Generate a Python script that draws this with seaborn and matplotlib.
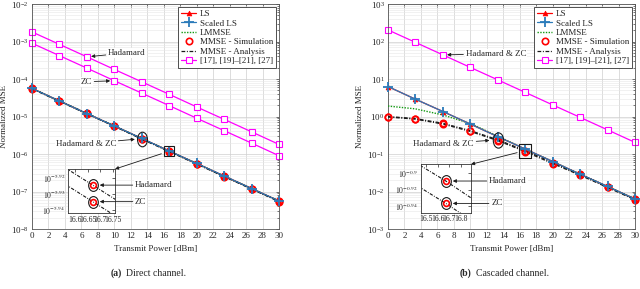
import matplotlib
matplotlib.use('Agg')
import matplotlib.pyplot as plt
import matplotlib.ticker as mticker
from matplotlib.path import Path
from matplotlib.transforms import Affine2D
import seaborn as sns

# transmit power grid [dBm]
power = [0, 3.33, 6.67, 10, 13.33, 16.67, 20, 23.33, 26.67, 30]

# (a) direct channel
a_ls = [5.6e-5, 2.6e-5, 1.2e-5, 5.6e-6, 2.6e-6, 1.2e-6, 5.6e-7, 2.6e-7, 1.2e-7, 5.6e-8]
a_sls = [5.6e-5, 2.6e-5, 1.2e-5, 5.6e-6, 2.6e-6, 1.2e-6, 5.6e-7, 2.6e-7, 1.2e-7, 5.6e-8]
a_lmmse = [5.6e-5, 2.6e-5, 1.2e-5, 5.6e-6, 2.6e-6, 1.2e-6, 5.6e-7, 2.6e-7, 1.2e-7, 5.6e-8]
a_mmse_had = [5.62e-5, 2.61e-5, 1.21e-5, 5.6e-6, 2.563e-6, 1.19e-6, 5.52e-7, 2.56e-7, 1.19e-7, 5.52e-8]
a_mmse_zc = [5.47e-5, 2.54e-5, 1.18e-5, 5.47e-6, 2.50e-6, 1.162e-6, 5.39e-7, 2.50e-7, 1.16e-7, 5.39e-8]
a_ref_had = [1.8e-3, 8.4e-4, 3.9e-4, 1.8e-4, 8.4e-5, 3.9e-5, 1.8e-5, 8.4e-6, 3.9e-6, 1.8e-6]
a_ref_zc = [9.0e-4, 4.2e-4, 1.95e-4, 9.0e-5, 4.2e-5, 1.95e-5, 9.0e-6, 4.2e-6, 1.95e-6, 9.0e-7]

# (b) cascaded channel
b_ls = [6.3, 2.9, 1.36, 0.63, 0.29, 0.136, 0.063, 0.029, 0.0136, 0.0063]
b_sls = [6.3, 2.9, 1.36, 0.63, 0.29, 0.136, 0.063, 0.029, 0.0136, 0.0063]
b_lmmse = [1.9, 1.6, 1.1, 0.65, 0.30, 0.135, 0.063, 0.029, 0.0136, 0.0063]
b_mmse_had = [1.0, 0.88, 0.66, 0.42, 0.24, 0.1232, 0.0592, 0.0288, 0.0135, 0.0063]
b_mmse_zc = [0.97, 0.85, 0.63, 0.40, 0.228, 0.1157, 0.0556, 0.0272, 0.0128, 0.0060]
b_ref = [204, 95, 44, 20.4, 9.5, 4.4, 2.04, 0.95, 0.44, 0.204]

labels = ['LS', 'Scaled LS', 'LMMSE', 'MMSE - Simulation', 'MMSE - Analysis',
          '[17], [19]–[21], [27]']

sns.set_theme(style='whitegrid')
plt.rcParams['font.family'] = ['Liberation Serif', 'DejaVu Serif']
plt.rcParams['mathtext.fontset'] = 'stix'

RED = '#ff0000'
BLUE = '#2b7bba'
GREEN = '#139a13'
MAG = '#ff00ff'
FS = 6.5

ell_main = Path.unit_circle().transformed(Affine2D().scale(0.68, 1.0))
ell_in = Path.unit_circle().transformed(Affine2D().scale(0.82, 1.0))
rect_m = Path.unit_rectangle().transformed(Affine2D().translate(-0.5, -0.5).scale(0.8, 1.0))

fig = plt.figure(figsize=(6.4, 2.89), dpi=100)
ax1 = fig.add_axes([0.05, 0.2076, 0.386, 0.7785])
ax2 = fig.add_axes([0.6062, 0.2076, 0.386, 0.7785])


def draw_main(ax, ls, sls, lmmse, mh, mz, refs):
    sns.lineplot(x=power, y=ls, ax=ax, color=RED, lw=0.9, marker='^', ms=3.5,
                 markeredgecolor=RED, markeredgewidth=0.5, label=labels[0],
                 zorder=4, clip_on=False)
    sns.lineplot(x=power, y=sls, ax=ax, color=BLUE, lw=0.9, marker='+', ms=6.5,
                 markeredgecolor=BLUE, markeredgewidth=1.3, label=labels[1],
                 zorder=6, clip_on=False)
    sns.lineplot(x=power, y=lmmse, ax=ax, color=GREEN, lw=1.0,
                 linestyle=(0, (1, 1)), label=labels[2], zorder=3)
    for i, m in enumerate([mh, mz]):
        sns.lineplot(x=power, y=m, ax=ax, color=RED, linestyle='', marker='o',
                     ms=4.6, mfc='none', markeredgecolor=RED, markeredgewidth=1.2,
                     label=labels[3] if i == 0 else '_nolegend_', zorder=5,
                     clip_on=False)
    for i, m in enumerate([mh, mz]):
        sns.lineplot(x=power, y=m, ax=ax, color='k', lw=0.9,
                     linestyle=(0, (3, 1.3, 0.8, 1.3)),
                     label=labels[4] if i == 0 else '_nolegend_', zorder=4.5)
    for i, r in enumerate(refs):
        sns.lineplot(x=power, y=r, ax=ax, color=MAG, lw=0.9, marker='s', ms=4.2,
                     mfc='white', markeredgecolor=MAG, markeredgewidth=0.8,
                     label=labels[5] if i == 0 else '_nolegend_', zorder=2,
                     clip_on=False)


def style_main(ax, ylo, yhi):
    ax.set_yscale('log')
    ax.set_xlim(0, 30)
    ax.set_ylim(ylo, yhi)
    ax.set_xticks(range(0, 31, 2))
    ax.yaxis.set_major_locator(mticker.LogLocator(base=10, numticks=20))
    ax.yaxis.set_major_formatter(mticker.LogFormatterMathtext())
    ax.yaxis.set_minor_locator(mticker.LogLocator(base=10, subs=range(2, 10), numticks=20))
    ax.yaxis.set_minor_formatter(mticker.NullFormatter())
    ax.grid(True, which='major', color='#cfcfcf', lw=0.5)
    ax.grid(True, which='minor', axis='y', color='#e6e6e6', lw=0.4)
    ax.tick_params(which='both', direction='in', top=True, right=True,
                   labelsize=FS, pad=2.5, color='#444444', width=0.5)
    ax.tick_params(which='major', length=2.5)
    ax.tick_params(which='minor', length=1.5)
    for s in ax.spines.values():
        s.set_color('#555555')
        s.set_linewidth(0.6)
    ax.set_xlabel('Transmit Power [dBm]', fontsize=FS, labelpad=3)
    ax.set_ylabel('Normalized MSE', fontsize=FS, labelpad=2)
    ax.legend(loc='upper right', fontsize=FS, frameon=True, fancybox=False,
              edgecolor='#333333', framealpha=1, borderpad=0.3,
              labelspacing=0.12, handlelength=1.7, handletextpad=0.4,
              borderaxespad=0.35, numpoints=1)
    ax.get_legend().get_frame().set_linewidth(0.6)


def note(ax, text, x, y, dx, dy, shrink=3):
    ax.annotate(text, xy=(x, y), xytext=(dx, dy), textcoords='offset pixels',
                ha='center', va='center', fontsize=FS, zorder=10,
                bbox=dict(boxstyle='square,pad=0.1', fc='white', ec='none'),
                arrowprops=dict(arrowstyle='-|>', color='k', lw=0.6,
                                mutation_scale=5, shrinkA=1, shrinkB=shrink))


def draw_inset(rect, mh, mz, xlim, ylim, yt, ytl, xt, xtl):
    axin = fig.add_axes(rect)
    axin.set_facecolor('white')
    for m in [mh, mz]:
        sns.lineplot(x=power, y=m, ax=axin, color='k', lw=0.8,
                     linestyle=(0, (3, 1.3, 0.8, 1.3)))
        axin.plot(power[5], m[5], linestyle='', marker=ell_in, ms=8.5,
                  mfc='none', mec='k', mew=0.8, zorder=6)
        sns.lineplot(x=[power[5]], y=[m[5]], ax=axin, linestyle='', marker='o',
                     ms=4.2, mfc='none', markeredgecolor=RED,
                     markeredgewidth=1.2, zorder=7)
    axin.set_yscale('log')
    axin.set_xlim(*xlim)
    axin.set_ylim(*ylim)
    axin.set_yticks(yt)
    axin.set_yticklabels(ytl)
    axin.yaxis.set_minor_locator(mticker.NullLocator())
    axin.set_xticks(xt)
    axin.set_xticklabels(xtl)
    axin.grid(False)
    axin.tick_params(which='both', direction='in', labelsize=5.5, pad=2,
                     length=2, width=0.5, top=True, right=True)
    for s in axin.spines.values():
        s.set_color('#333333')
        s.set_linewidth(0.6)
    if axin.get_legend():
        axin.get_legend().remove()
    return axin


# ---- (a) direct channel
draw_main(ax1, a_ls, a_sls, a_lmmse, a_mmse_had, a_mmse_zc, [a_ref_had, a_ref_zc])
style_main(ax1, 1e-8, 1e-2)
note(ax1, 'Hadamard', power[2], a_ref_had[2], 40, 4)
note(ax1, 'ZC', power[3], a_ref_zc[3], -28, -1)
ax1.plot(power[4], a_mmse_had[4], linestyle='', marker=ell_main, ms=10.5,
         mfc='none', mec='k', mew=0.8, zorder=8)
note(ax1, 'Hadamard & ZC', power[4], a_mmse_had[4], -56, -5, shrink=5)
ax1.plot(power[5], a_mmse_had[5], linestyle='', marker='s', ms=7.5,
         mfc='none', mec='k', mew=0.8, zorder=8)
ins1 = draw_inset([0.1063, 0.263, 0.0734, 0.152], a_mmse_had, a_mmse_zc,
                  (16.572, 16.758), (10 ** -5.9419, 10 ** -5.9144),
                  [10 ** -5.94, 10 ** -5.93, 10 ** -5.92],
                  [r'$10^{-5.94}$', r'$10^{-5.93}$', r'$10^{-5.92}$'],
                  [16.6, 16.65, 16.7, 16.75], ['16.6', '16.65', '16.7', '16.75'])
ax1.annotate('', xy=(1, 1), xycoords=ins1.transAxes,
             xytext=(power[5], a_mmse_had[5]), textcoords='data',
             arrowprops=dict(arrowstyle='-|>', color='k', lw=0.6,
                             mutation_scale=5, shrinkA=6, shrinkB=0))
note(ins1, 'Hadamard', power[5], a_mmse_had[5], 61, 0, shrink=5)
note(ins1, 'ZC', power[5], a_mmse_zc[5], 48, 0, shrink=5)

# ---- (b) cascaded channel
draw_main(ax2, b_ls, b_sls, b_lmmse, b_mmse_had, b_mmse_zc, [b_ref])
style_main(ax2, 1e-3, 1e3)
note(ax2, 'Hadamard & ZC', power[2], b_ref[2], 53, 1)
ax2.plot(power[4], b_mmse_had[4], linestyle='', marker=ell_main, ms=11,
         mfc='none', mec='k', mew=0.8, zorder=8)
note(ax2, 'Hadamard & ZC', power[4], b_mmse_had[4], -54, -4, shrink=6)
ax2.plot(power[5], b_mmse_had[5], linestyle='', marker=rect_m, ms=10,
         mfc='none', mec='k', mew=0.8, zorder=8)
ins2 = draw_inset([0.6573, 0.264, 0.0786, 0.1675], b_mmse_had, b_mmse_zc,
                  (16.455, 16.885), (10 ** -0.948, 10 ** -0.889),
                  [10 ** -0.94, 10 ** -0.92, 10 ** -0.9],
                  [r'$10^{-0.94}$', r'$10^{-0.92}$', r'$10^{-0.9}$'],
                  [16.5, 16.6, 16.7, 16.8], ['16.5', '16.6', '16.7', '16.8'])
ax2.annotate('', xy=(1, 1), xycoords=ins2.transAxes,
             xytext=(power[5], b_mmse_had[5]), textcoords='data',
             arrowprops=dict(arrowstyle='-|>', color='k', lw=0.6,
                             mutation_scale=5, shrinkA=6, shrinkB=0))
note(ins2, 'Hadamard', power[5], b_mmse_had[5], 62, 0, shrink=5)
note(ins2, 'ZC', power[5], b_mmse_zc[5], 51, 0, shrink=5)

# captions
fig.text(111 / 640, 0.055, '(a)', fontsize=7, fontweight='bold', ha='left', va='center')
fig.text(126 / 640, 0.055, 'Direct channel.', fontsize=7, ha='left', va='center')
fig.text(460 / 640, 0.055, '(b)', fontsize=7, fontweight='bold', ha='left', va='center')
fig.text(476 / 640, 0.055, 'Cascaded channel.', fontsize=7, ha='left', va='center')

fig.savefig('out.png', dpi=100)
